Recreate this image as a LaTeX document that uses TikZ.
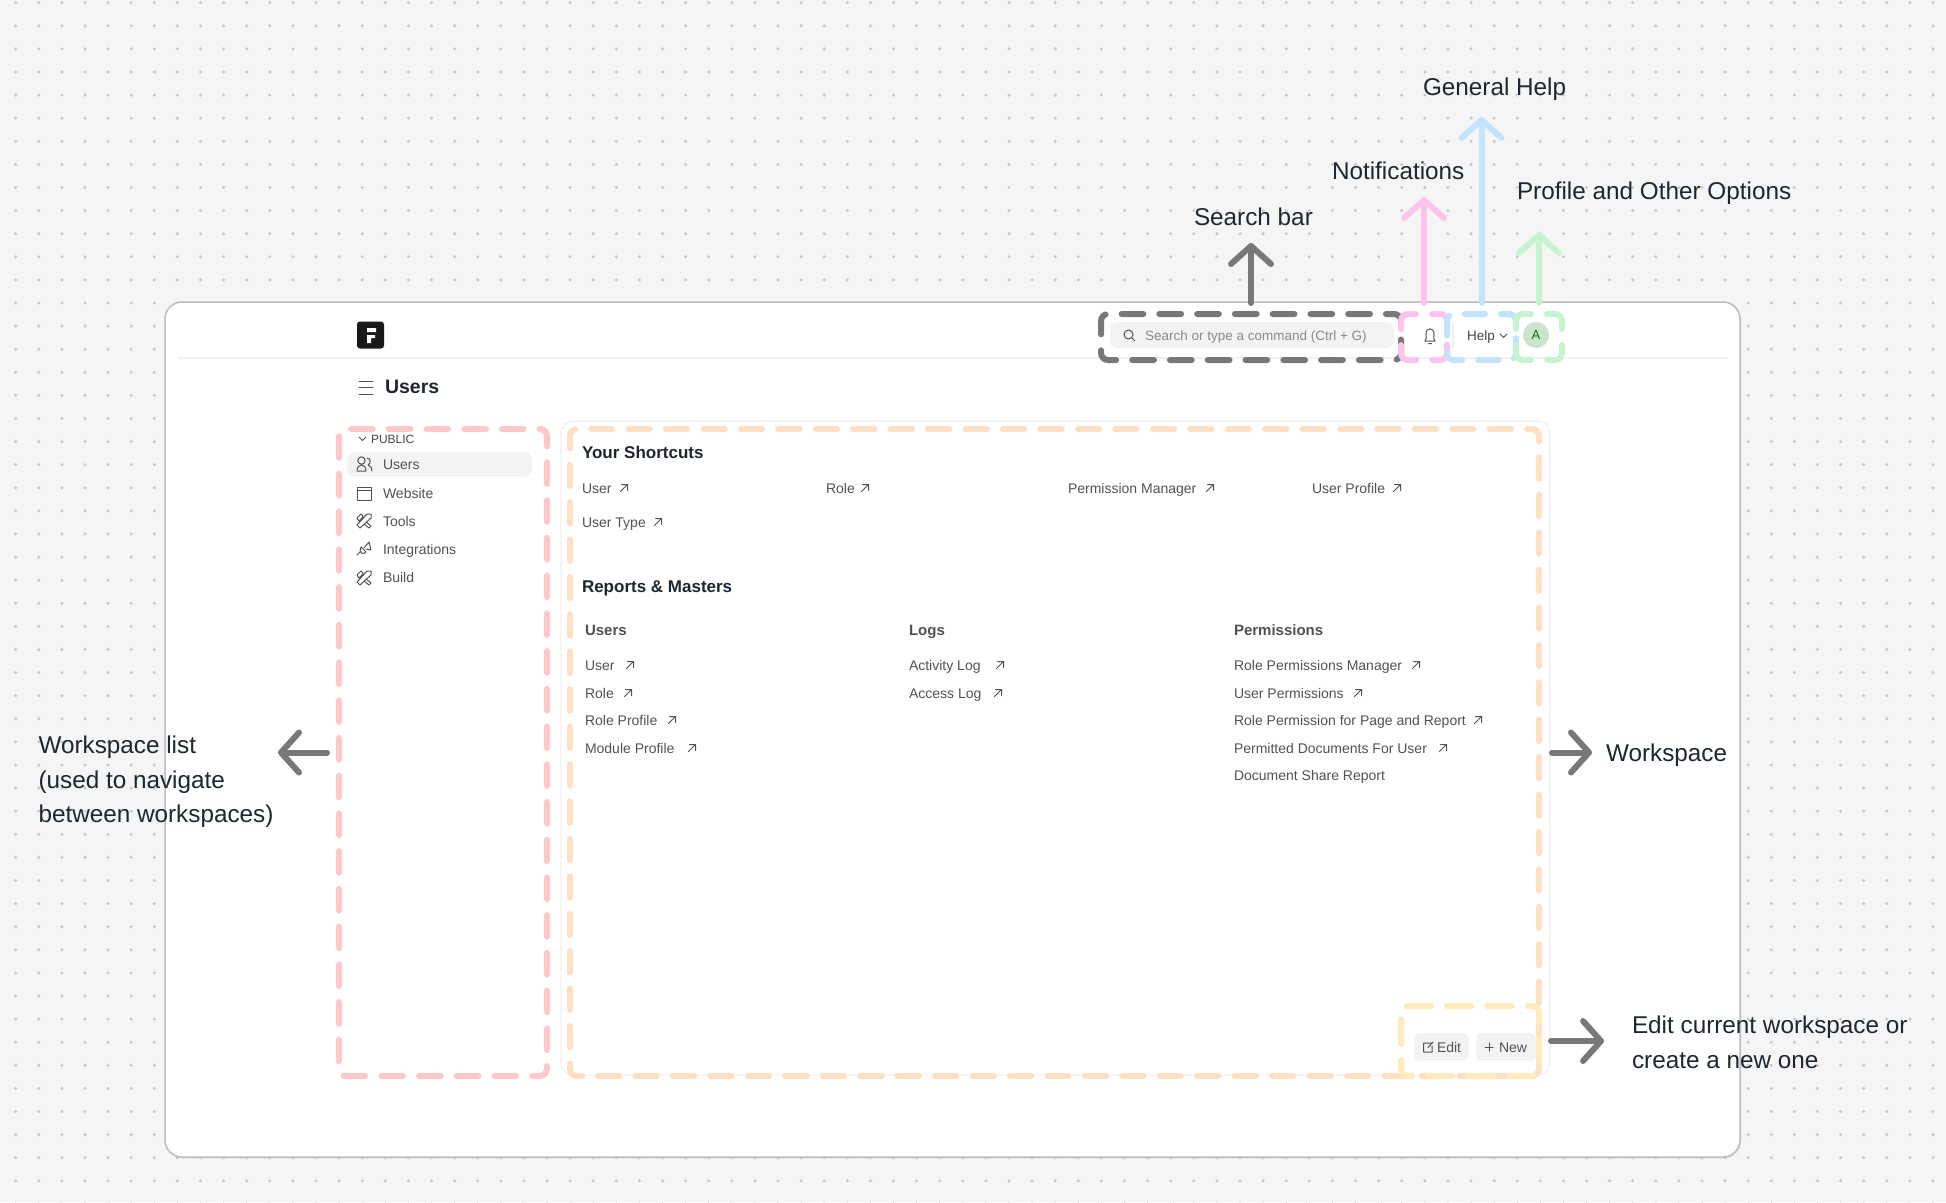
\documentclass[tikz,border=0pt]{standalone}
\usepackage{fontspec}
\setmainfont{Liberation Sans}
\usetikzlibrary{arrows.meta,shadows}
\definecolor{pagebg}{HTML}{F5F5F5}
\definecolor{griddot}{HTML}{C9C9C9}
\definecolor{cardedge}{HTML}{BDBDBD}
\definecolor{softline}{HTML}{F1F1F1}
\definecolor{softfill}{HTML}{F3F3F3}
\definecolor{inkdark}{HTML}{1F272E}
\definecolor{inkmid}{HTML}{525252}
\definecolor{inkfaint}{HTML}{8A8A8A}
\definecolor{markgray}{HTML}{787878}
\definecolor{markpink}{HTML}{FFC4EC}
\definecolor{markblue}{HTML}{C2E4FF}
\definecolor{markgreen}{HTML}{C6F4D0}
\definecolor{markred}{HTML}{FFC9C9}
\definecolor{markorange}{HTML}{FFE0C4}
\definecolor{markyellow}{HTML}{FFEBBE}
\tikzset{
  every node/.style={inner sep=0pt, outer sep=0pt},
  notes/.style={anchor=west, text=inkdark, font=\fontsize{24.3}{34.7}\selectfont, align=left},
  note/.style={notes, text height=21pt, text depth=5pt},
  title/.style={anchor=west, text height=16pt, text depth=4pt, text=inkdark, font=\fontsize{17}{22}\selectfont\bfseries},
  head/.style={anchor=west, text height=14pt, text depth=3.2pt, text=inkmid, font=\fontsize{15}{20}\selectfont\bfseries},
  item/.style={anchor=west, text height=13pt, text depth=3pt, text=inkmid, font=\fontsize{14}{18}\selectfont},
  markbox/.style={draw=#1, line width=6pt, rounded corners=7pt, line cap=round},
  markarrow/.style={draw=#1, line width=6pt, line cap=round,
    -{Straight Barb[length=18pt, width=40pt, line width=6pt, round]}},
  thin icon/.style={draw=inkmid, line width=1pt, line cap=round, line join=round},
}
\newcommand{\golink}[1]{\draw[thin icon] (#1)+(-3.5,3.5) -- +(3.5,-3.5) +(-2.5,-3.5) -- +(3.5,-3.5) -- +(3.5,2.5);}
\newcommand{\toolsicon}[1]{\draw[thin icon, shift={(#1)}] (-7,4) -- (-4,7) -- (7,-3) -- (7,-7) -- (3,-7) -- cycle
  (-7,-3) -- (-3,-7) -- (-1,-5) -- (-2,-3) -- (-5,0) -- cycle (2,1) -- (7,5) -- (5,7) -- (0,3);}
\begin{document}
\begin{tikzpicture}[x=1pt,y=-1pt]
\useasboundingbox (0,0) rectangle (1946,1202);
\fill[pagebg] (0,0) rectangle (1946,1202);
\foreach \row in {0,...,52} {
  \foreach \col in {0,...,83} {
    \fill[griddot] ({15.7+23.1*\col},{2.7+23.1*\row}) circle (1.7);
  }
}

% card
\node (card) at (952.5,729.5) [draw=cardedge, fill=white, line width=1.5pt, rounded corners=17pt,
  minimum width=1575pt, minimum height=855pt,
  drop shadow={opacity=.12, shadow xshift=1.5pt, shadow yshift=-1.5pt}] {};
\draw[softline, line width=1.5pt] (178,358) -- (1728,358);
\node (logo) at (370.5,335) [fill=black!90, rounded corners=3pt, minimum width=27pt, minimum height=27pt] {};
\fill[white] (367,328) -- (376,328) -- (376,332) -- (367,332) -- cycle
  (367,335) -- (375,335) -- (375,338) -- (371,338) -- (371,343) -- (367,343) -- cycle;
\draw[thin icon] (359,381) -- (373,381) (359,387.5) -- (373,387.5) (359,394) -- (373,394);
\node (pagename) at (385,387) [title, text height=18pt, text depth=4.5pt, font=\fontsize{19.5}{24}\selectfont\bfseries] {Users};

% top bar
\node (searchfield) at (1252,335) [fill=softfill, rounded corners=7pt, minimum width=284pt, minimum height=26pt] {};
\draw[draw=inkmid, line width=1pt] (1128.5,334.5) circle (4.5) (1132,338) -- (1135,341);
\node (searchtext) at (1145,335) [item, text=inkfaint, font=\fontsize{13.5}{16}\selectfont] {Search or type a command (Ctrl + G)};
\draw[thin icon] (1425,341) .. controls (1427,338) and (1426,336) .. (1426,334) .. controls (1426,327) and (1434,327) .. (1434,334)
  .. controls (1434,336) and (1433,338) .. (1435,341) -- cycle (1428.5,343.5) -- (1431.5,343.5);
\draw[softline, line width=1.5pt] (1453,322) -- (1453,348);
\node (helptext) at (1467,335) [item, text=inkdark!85, font=\fontsize{13.5}{16}\selectfont] {Help};
\draw[thin icon] (1500,334) -- (1503.5,337.5) -- (1507,334);
\node (avatar) at (1536,335) [circle, fill=green!45!black!20!white, minimum size=26pt,
  text=green!45!black, font=\fontsize{13}{16}\selectfont] {A};

% sidebar
\draw[thin icon] (359,437) -- (362.5,440.5) -- (366,437);
\node (public) at (371,438) [item, text=inkdark!85, font=\fontsize{12}{14}\selectfont] {PUBLIC};
\node (current) at (439.5,464.5) [fill=softfill, rounded corners=8pt, minimum width=185pt, minimum height=25pt] {};
\node (sideusers) at (383,464) [item] {Users};
\node (sideweb) at (383,493) [item] {Website};
\node (sidetools) at (383,521) [item] {Tools};
\node (sideint) at (383,549) [item] {Integrations};
\node (sidebuild) at (383,577) [item] {Build};
\draw[thin icon] (357,471) .. controls (357,463) and (366,463) .. (366,471) -- cycle (361.5,460.5) circle (3.7)
  (367,458) .. controls (371,458) and (371,464) .. (368,465) .. controls (371,466) and (372,468) .. (372,471);
\draw[thin icon] (357,487) rectangle (371,500) (357,490.5) -- (371,490.5);
\toolsicon{364,521}
\draw[thin icon] (357,555) -- (360,552) (361,547) -- (366,552) .. controls (363,556) and (358,552) .. (361,547)
  (364,548) -- (369,542) -- (371,550) -- (366,549);
\toolsicon{364,578}

% shortcuts
\node (shortcuts) at (582,452) [title] {Your Shortcuts};
\node (cutuser) at (582,488) [item] {User};
\node (cutrole) at (826,488) [item] {Role};
\node (cutperm) at (1068,488) [item] {Permission Manager};
\node (cutprofile) at (1312,488) [item] {User Profile};
\node (cuttype) at (582,522) [item] {User Type};
\foreach \pt in {{624,488},{865,488},{1210,488},{1397,488},{658,522}} {\golink{\pt}}

% reports
\node (reports) at (582,586) [title] {Reports \& Masters};
\node (repusers) at (585,630) [head] {Users};
\node (replogs) at (909,630) [head] {Logs};
\node (repperms) at (1234,630) [head] {Permissions};
\node (usruser) at (585,665) [item] {User};
\node (usrrole) at (585,693) [item] {Role};
\node (usrprofile) at (585,720) [item] {Role Profile};
\node (usrmodule) at (585,748) [item] {Module Profile};
\node (logact) at (909,665) [item] {Activity Log};
\node (logacc) at (909,693) [item] {Access Log};
\node (permmgr) at (1234,665) [item] {Role Permissions Manager};
\node (permuser) at (1234,693) [item] {User Permissions};
\node (permpage) at (1234,720) [item] {Role Permission for Page and Report};
\node (permdocs) at (1234,748) [item] {Permitted Documents For User};
\node (permshare) at (1234,775) [item] {Document Share Report};
\foreach \pt in {{630,665},{628,693},{672,720},{692,748},{1000,665},{998,693},{1416,665},{1358,693},{1478,720},{1443,748}} {\golink{\pt}}

% buttons
\node (editbtn) at (1441.5,1047) [fill=softfill, rounded corners=6pt, minimum width=55pt, minimum height=28pt] {};
\node (newbtn) at (1506,1047) [fill=softfill, rounded corners=6pt, minimum width=60pt, minimum height=28pt] {};
\draw[thin icon] (1431,1043) -- (1423.5,1043) -- (1423.5,1052) -- (1432,1052) -- (1432,1046) (1428,1047.5) -- (1433,1042);
\node (edittext) at (1437,1047) [item] {Edit};
\draw[thin icon] (1485,1047) -- (1493,1047) (1489,1043) -- (1489,1051);
\node (newtext) at (1499,1047) [item] {New};

% inner panel, then the marks on top
\node (panel) at (1055.5,748) [draw=softline, line width=1.2pt, rounded corners=12pt, minimum width=989pt, minimum height=654pt] {};
\node (wslist) at (443,752.5) [markbox=markred, dash pattern=on 21.73pt off 16pt, dash phase=21.41pt, minimum width=208pt, minimum height=647pt] {};
\node (wsarea) at (1054.5,752.5) [markbox=markorange, dash pattern=on 21.44pt off 16pt, dash phase=16.48pt, minimum width=969pt, minimum height=647pt] {};
\node (editarea) at (1470,1041) [markbox=markyellow, dash pattern=on 24.4pt off 16pt, dash phase=20.1pt, minimum width=138pt, minimum height=70pt] {};
\node (searcharea) at (1251,337) [markbox=markgray, dash pattern=on 21.78pt off 16pt, dash phase=13.78pt, minimum width=300pt, minimum height=46pt] {};
\node (bellarea) at (1424,337) [markbox=markpink, dash pattern=on 27pt off 16pt, dash phase=19pt, minimum width=46pt, minimum height=46pt] {};
\node (helparea) at (1481.5,337) [markbox=markblue, dash pattern=on 20.3pt off 16pt, dash phase=12.3pt, minimum width=69pt, minimum height=46pt] {};
\node (userarea) at (1539,337) [markbox=markgreen, dash pattern=on 27pt off 16pt, dash phase=19pt, minimum width=46pt, minimum height=46pt] {};

% labels
\node (searchnote) at (1194,217) [note] {Search bar};
\node (bellnote) at (1332,171) [note] {Notifications};
\node (helpnote) at (1423,87) [note] {General Help};
\node (usernote) at (1517,191) [note] {Profile and Other Options};
\node (listnote) at (38.5,782) [notes] {Workspace list\\(used to navigate\\between workspaces)};
\node (areanote) at (1606,753) [note] {Workspace};
\node (editnote) at (1632,1042.5) [notes] {Edit current workspace or\\create a new one};

% arrows
\coordinate (searchtip) at (1251,243);
\coordinate (belltip) at (1424,197);
\coordinate (helptip) at (1481.5,117);
\coordinate (usertip) at (1539,232);
\coordinate (listtip) at (278,752.5);
\coordinate (areatip) at (1592,752.5);
\coordinate (edittip) at (1604,1041);
\draw[markarrow=markgray, shorten <=11pt] (searcharea.north) -- (searchtip);
\draw[markarrow=markpink, shorten <=11pt] (bellarea.north) -- (belltip);
\draw[markarrow=markblue, shorten <=11pt] (helparea.north) -- (helptip);
\draw[markarrow=markgreen, shorten <=11pt] (userarea.north) -- (usertip);
\draw[markarrow=markgray, shorten <=12pt] (wslist.west) -- (listtip);
\draw[markarrow=markgray, shorten <=13pt] (wsarea.east) -- (areatip);
\draw[markarrow=markgray, shorten <=12pt] (editarea.east) -- (edittip);
\end{tikzpicture}
\end{document}
